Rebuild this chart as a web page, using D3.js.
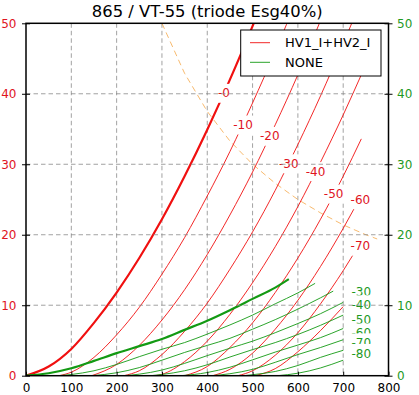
<!DOCTYPE html>
<html>
<head>
<meta charset="utf-8">
<script src="https://cdn.jsdelivr.net/npm/d3@7"></script>
<style>
  body { margin: 0; background: #fff; }
  svg { display: block; font-family: "DejaVu Sans", sans-serif; }
</style>
</head>
<body>
<svg id="chart" width="419" height="395"></svg>
<script>
// plate current (red) for each grid voltage, [plate V, mA]
var plate_0  = [[0,0],[50,1.3],[100,3.8],[150,7.5],[200,11.8],[250,16.7],[300,22.2],[350,28.3],[400,34.9],[450,42.0],[500,49.6],[550,57.6]];
var plate_10 = [[73,0],[100,0.5],[150,2.6],[200,5.8],[250,9.7],[300,14.4],[350,19.6],[400,25.5],[450,31.8],[500,38.7],[550,46.0],[600,53.8]];
var plate_20 = [[145,0],[200,1.6],[250,4.3],[300,7.9],[350,12.2],[400,17.2],[450,22.8],[500,28.9],[550,35.6],[600,42.7],[650,50.4],[700,58.4]];
var plate_30 = [[216,0],[250,0.7],[300,3.0],[350,6.3],[400,10.3],[450,15.1],[500,20.4],[550,26.3],[600,32.8],[650,39.7],[700,47.1],[740,53.3]];
var plate_40 = [[285,0],[300,0.2],[350,2.0],[400,4.9],[450,8.7],[500,13.2],[550,18.3],[600,24.0],[650,30.3],[700,37.0],[740,42.7]];
var plate_50 = [[350,0],[400,1.3],[450,4.0],[500,7.5],[550,11.8],[600,16.7],[650,22.2],[700,28.3],[740,33.6]];
var plate_60 = [[412,0],[450,0.9],[500,3.2],[550,6.6],[600,10.7],[650,15.5],[700,20.9],[740,25.6]];
var plate_70 = [[468,0],[500,0.7],[550,2.9],[600,6.1],[650,10.2],[700,14.9],[740,19.1]];
var plate_80 = [[505,0],[550,1.0],[600,3.4],[650,6.4],[700,9.8]];

// screen current (green)
var screen_0  = [[0,0],[50,0.35],[100,1.05],[150,2.1],[200,3.2],[250,4.2],[300,5.2],[350,6.5],[400,7.8],[450,9.3],[500,10.9],[550,12.5],[580,13.7]];
var screen_10 = [[73,0],[100,0.17],[150,0.7],[200,1.6],[250,2.7],[300,3.75],[350,4.7],[400,5.9],[450,7.2],[500,8.6],[550,10.2],[600,11.75],[638,13.1]];
var screen_20 = [[145,0],[200,0.42],[250,1.15],[300,2.2],[350,3.3],[400,4.3],[450,5.3],[500,6.6],[550,7.95],[600,9.45],[650,11.05],[678,12.0]];
var screen_30 = [[216,0],[250,0.22],[300,0.8],[350,1.75],[400,2.85],[450,3.9],[500,4.9],[550,6.1],[600,7.4],[650,8.8],[700,10.4]];
var screen_40 = [[275,0],[300,0.17],[350,0.7],[400,1.55],[450,2.65],[500,3.7],[550,4.7],[600,5.85],[650,7.15],[700,8.6]];
var screen_50 = [[342,0],[400,0.45],[450,1.2],[500,2.25],[550,3.35],[600,4.35],[650,5.4],[700,6.7]];
var screen_60 = [[410,0],[450,0.28],[500,0.9],[550,1.9],[600,3.0],[650,4.0],[700,5.1]];
var screen_70 = [[480,0],[500,0.14],[550,0.6],[600,1.45],[650,2.6],[700,3.6]];
var screen_80 = [[555,0],[600,0.35],[650,1.1],[700,2.2]];

// max plate dissipation
var dissipation = [[300,50],[350,42.9],[400,37.5],[450,33.3],[500,30.0],[550,27.3],[600,25.0],[650,23.1],[700,21.4],[750,20.0],[775,19.4]];

// curve labels
var redLabelText = ["-0","-10","-20","-30","-40","-50","-60","-70"];
var redLabelV    = [437, 479, 538, 580, 639, 679, 738, 738];
var redLabelI    = [40.1, 35.6, 34.0, 30.1, 29.0, 25.8, 25.0, 18.4];
var greenLabelText = ["-30","-40","-50","-60","-70","-80"];
var greenLabelV    = [740, 740, 740, 740, 740, 740];
var greenLabelI    = [11.9, 10.1, 8.0, 6.1, 4.7, 3.2];

var xTicks = [0,100,200,300,400,500,600,700,800];
var yTicks = [0,10,20,30,40,50];
var legendNames = ["HV1_I+HV2_I", "NONE"];

var plateCurves  = [plate_0, plate_10, plate_20, plate_30, plate_40, plate_50, plate_60, plate_70, plate_80];
var screenCurves = [screen_0, screen_10, screen_20, screen_30, screen_40, screen_50, screen_60, screen_70, screen_80];

var RED = "#f01010", GREEN = "#139a13", RED_TXT = "#e0141e", GREEN_TXT = "#1f9a1f";

var plot = {left: 26, right: 388.5, top: 23.3, bottom: 375.7};
var svg = d3.select("#chart");

var x = d3.scaleLinear().domain([0, 800]).range([plot.left, plot.right]);
var y = d3.scaleLinear().domain([0, 50]).range([plot.bottom, plot.top]);
var y2 = d3.scaleLinear().domain([0, 50]).range([plot.bottom, plot.top]);

svg.append("defs").append("clipPath").attr("id", "clip")
  .append("rect")
  .attr("x", plot.left).attr("y", plot.top)
  .attr("width", plot.right - plot.left).attr("height", plot.bottom - plot.top);

// vertical grid
svg.append("g").selectAll("line")
  .data(xTicks.slice(1, -1))
  .enter().append("line")
  .attr("x1", function(d) { return x(d); }).attr("x2", function(d) { return x(d); })
  .attr("y1", plot.top).attr("y2", plot.bottom)
  .attr("stroke", "#8a8a8a").attr("stroke-width", 0.8).attr("stroke-dasharray", "4.5,3");

var line = d3.line()
  .x(function(d) { return x(d[0]); })
  .y(function(d) { return y(d[1]); })
  .curve(d3.curveMonotoneX);

var curves = svg.append("g").attr("clip-path", "url(#clip)");

curves.append("path")
  .attr("d", line.curve(d3.curveLinear)(dissipation))
  .attr("fill", "none").attr("stroke", "#f5a84a").attr("stroke-width", 0.8)
  .attr("stroke-dasharray", "6,4");
line.curve(d3.curveMonotoneX);

curves.selectAll(".plate")
  .data(plateCurves)
  .enter().append("path")
  .attr("class", "plate")
  .attr("d", line)
  .attr("fill", "none").attr("stroke", RED)
  .attr("stroke-width", function(d, i) { return i == 0 ? 2.2 : 0.9; });

curves.selectAll(".screen")
  .data(screenCurves)
  .enter().append("path")
  .attr("class", "screen")
  .attr("d", line)
  .attr("fill", "none").attr("stroke", GREEN)
  .attr("stroke-width", function(d, i) { return i == 0 ? 2.2 : 0.9; });

// labels with white boxes
function addLabels(texts, vs, is, color) {
  var g = svg.append("g");
  texts.forEach(function(t, i) {
    var cx = x(vs[i]), base = y(is[i]) + 4.4, pad = 2.5;
    var rect = g.append("rect").attr("fill", "#fff");
    var txt = g.append("text")
      .attr("x", cx).attr("y", base)
      .attr("text-anchor", "middle")
      .attr("font-size", 12)
      .attr("fill", color)
      .text(t);
    var w = txt.node().getComputedTextLength();
    rect.attr("x", cx - w / 2 - pad).attr("y", base - 11.1 - pad)
      .attr("width", w + 2 * pad).attr("height", 13.9 + 2 * pad);
  });
}
addLabels(redLabelText, redLabelV, redLabelI, RED_TXT);
addLabels(greenLabelText, greenLabelV, greenLabelI, GREEN_TXT);

// horizontal grid
svg.append("g").selectAll("line")
  .data(yTicks.slice(1, -1))
  .enter().append("line")
  .attr("x1", plot.left).attr("x2", plot.right)
  .attr("y1", function(d) { return y(d); }).attr("y2", function(d) { return y(d); })
  .attr("stroke", "#8a8a8a").attr("stroke-width", 0.8).attr("stroke-dasharray", "4.5,3");

// axes
var gx = svg.append("g")
  .attr("transform", "translate(0," + plot.bottom + ")")
  .call(d3.axisBottom(x).tickValues(xTicks).tickSizeInner(-4).tickSizeOuter(0).tickPadding(7.8));
gx.attr("font-size", 12).attr("font-family", null);
gx.select(".domain").remove();
gx.selectAll("text").attr("fill", "#000");

var gl = svg.append("g")
  .attr("transform", "translate(" + plot.left + ",0)")
  .call(d3.axisLeft(y).tickValues(yTicks).tickSizeInner(4).tickSizeOuter(0).tickPadding(5.5));
gl.attr("font-size", 12).attr("font-family", null);
gl.select(".domain").remove();
gl.selectAll(".tick line").attr("x1", 4);
gl.selectAll("text").attr("fill", RED_TXT);

var gr = svg.append("g")
  .attr("transform", "translate(" + plot.right + ",0)")
  .call(d3.axisRight(y2).tickValues(yTicks).tickSizeInner(4).tickSizeOuter(0).tickPadding(4.5));
gr.attr("font-size", 12).attr("font-family", null);
gr.select(".domain").remove();
gr.selectAll(".tick line").attr("x1", -4);
gr.selectAll("text").attr("fill", GREEN_TXT);

// spines
svg.append("rect")
  .attr("x", plot.left).attr("y", plot.top)
  .attr("width", plot.right - plot.left).attr("height", plot.bottom - plot.top)
  .attr("fill", "none").attr("stroke", "#000").attr("stroke-width", 1.5);

// title
svg.append("text")
  .attr("x", (plot.left + plot.right) / 2).attr("y", 16.5)
  .attr("text-anchor", "middle").attr("font-size", 16.4)
  .text("865 / VT-55 (triode Esg40%)");

// legend
var legend = svg.append("g");
legend.append("rect")
  .attr("x", 240.7).attr("y", 30).attr("width", 140.3).attr("height", 46)
  .attr("fill", "#fff").attr("stroke", "#000").attr("stroke-width", 1);
var legendColors = [RED, GREEN];
legendNames.forEach(function(name, i) {
  var ly = 42.7 + i * 19.6;
  legend.append("line")
    .attr("x1", 250).attr("x2", 270).attr("y1", ly).attr("y2", ly)
    .attr("stroke", legendColors[i]).attr("stroke-width", 0.9);
  legend.append("text")
    .attr("x", 285).attr("y", ly + 4.7)
    .attr("font-size", 13)
    .text(name);
});
</script>
</body>
</html>
